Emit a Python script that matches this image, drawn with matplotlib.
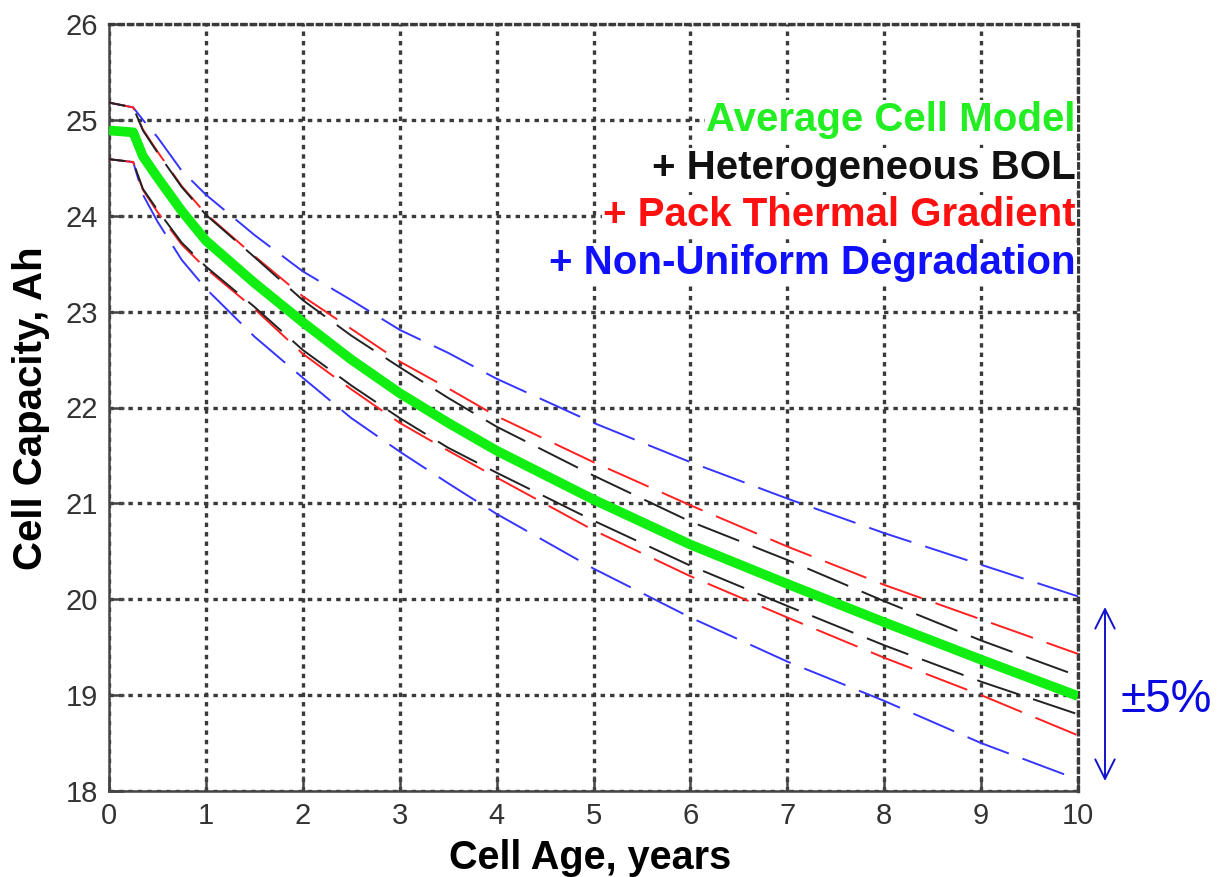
import matplotlib
matplotlib.use("Agg")
import matplotlib.pyplot as plt

plt.rcParams['font.family'] = ['Liberation Sans', 'DejaVu Sans']
plt.rcParams['lines.scale_dashes'] = False

# cell age, years
years = [0, 0.25, 0.35, 0.5, 0.75, 1, 1.5, 2, 2.5, 3, 3.5, 4, 5, 6, 7, 8, 9, 10]

# capacity, Ah
avg_cell = [24.89, 24.87, 24.62, 24.40, 24.05, 23.74, 23.30, 22.89, 22.50, 22.15,
            21.84, 21.55, 21.04, 20.57, 20.16, 19.76, 19.37, 18.99]
bol_hi = [25.18, 25.13, 24.89, 24.66, 24.30, 24.01, 23.57, 23.12, 22.75, 22.42,
          22.10, 21.80, 21.29, 20.81, 20.41, 19.98, 19.57, 19.20]
bol_lo = [24.59, 24.56, 24.28, 24.06, 23.72, 23.47, 23.05, 22.60, 22.23, 21.89,
          21.58, 21.32, 20.82, 20.35, 19.93, 19.52, 19.14, 18.80]
thermal_hi = [25.18, 25.13, 24.90, 24.67, 24.31, 24.02, 23.58, 23.16, 22.82, 22.48,
              22.20, 21.91, 21.43, 20.98, 20.55, 20.15, 19.79, 19.43]
thermal_lo = [24.59, 24.56, 24.27, 24.04, 23.70, 23.45, 23.03, 22.56, 22.19, 21.84,
              21.55, 21.27, 20.72, 20.24, 19.81, 19.39, 19.00, 18.58]
degr_hi = [25.18, 25.13, 25.00, 24.82, 24.47, 24.22, 23.80, 23.42, 23.12, 22.81,
           22.57, 22.30, 21.84, 21.43, 21.05, 20.69, 20.36, 20.03]
degr_lo = [24.59, 24.56, 24.22, 23.94, 23.54, 23.24, 22.74, 22.31, 21.89, 21.54,
           21.21, 20.89, 20.32, 19.81, 19.35, 18.94, 18.50, 18.12]

labels = ['Average Cell Model', '+ Heterogeneous BOL',
          '+ Pack Thermal Gradient', '+ Non-Uniform Degradation']

W, H = 1219, 877
fig = plt.figure(figsize=(W / 100, H / 100), dpi=100)
ax = fig.add_axes([109 / W, 86 / H, 969 / W, 767 / H])

dash = (0, (32, 10.5))
ax.plot(years, degr_hi, color='#3535ff', lw=1.4, ls=dash, zorder=3)
ax.plot(years, degr_lo, color='#3535ff', lw=1.4, ls=dash, zorder=3)
ax.plot(years, thermal_hi, color='#ff2020', lw=1.4, ls=(12, (32, 10.5)), zorder=3)
ax.plot(years, thermal_lo, color='#ff2020', lw=1.4, ls=(12, (32, 10.5)), zorder=3)
ax.plot(years, bol_hi, color='#222222', lw=1.4, ls=(20, (32, 10.5)), zorder=3)
ax.plot(years, bol_lo, color='#222222', lw=1.4, ls=(20, (32, 10.5)), zorder=3)
ax.plot(years, avg_cell, color='#11ee11', lw=7, solid_capstyle='butt', zorder=4)

ax.set_xlim(0, 10)
ax.set_ylim(18, 26)
ax.set_xticks(range(0, 11))
ax.set_yticks(range(18, 27))

dots = (0, (3.2, 3.6))
ax.grid(True, color='#3a3a3a', linestyle=dots, linewidth=2.4)
ax.set_axisbelow(True)
for side in ['top', 'right']:
    ax.spines[side].set_linestyle(dots)
    ax.spines[side].set_linewidth(2.4)
    ax.spines[side].set_color('#3a3a3a')
for side in ['left', 'bottom']:
    ax.spines[side].set_linewidth(1.8)
    ax.spines[side].set_color('#444444')

ax.tick_params(direction='in', length=11, width=1.8, color='#444444',
               labelsize=21, labelcolor='#333333', pad=8)

fig.text(31 / W, 1 - 408 / H, 'Cell Capacity, Ah', rotation=90, ha='center',
         va='center', fontsize=29, fontweight='bold')
fig.text(590 / W, 1 - 839 / H, 'Cell Age, years', ha='center', va='top',
         fontsize=28.5, fontweight='bold')

colors = ['#22ee22', '#111111', '#ff1010', '#1010ff']
ys = [120, 168, 215, 263]
for lab, c, y in zip(labels, colors, ys):
    fig.text(1076 / W, 1 - y / H, lab, ha='right', va='center', fontsize=29,
             fontweight='bold', color=c, zorder=5,
             bbox=dict(facecolor='white', edgecolor='none', pad=1))

# +-5% band marker to the right of the axes
ax.annotate('', xy=(1105 / W, 1 - 607 / H), xytext=(1105 / W, 1 - 781 / H),
            xycoords='figure fraction', textcoords='figure fraction',
            arrowprops=dict(arrowstyle='<->,head_length=0.7,head_width=0.35',
                            color='#1212d0', lw=1.4, mutation_scale=20,
                            shrinkA=0, shrinkB=0))
fig.text(1166 / W, 1 - 700 / H, '±5%', ha='center', va='center', fontsize=33,
         color='#0a0ae0')

fig.savefig('out.png', dpi=100)
